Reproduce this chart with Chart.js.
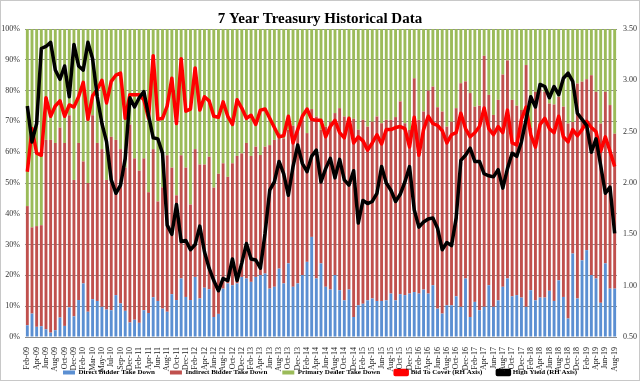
<!DOCTYPE html>
<html><head><meta charset="utf-8">
<script src="https://cdn.jsdelivr.net/npm/chart.js@4.4.1/dist/chart.umd.min.js"></script>
<style>
html,body{margin:0;padding:0;background:#fff;overflow:hidden;width:640px;height:381px;}
#wrap{position:relative;width:640px;height:386px;}
#frame{position:fixed;left:0;top:0;width:638px;height:379px;border:1px solid #c8c8c8;pointer-events:none;}
</style></head><body>
<div id="wrap"><canvas id="c" width="640" height="386"></canvas></div>
<div id="frame"></div>
<script>
const categories = [
'Feb-09','Mar-09','Apr-09','May-09','Jun-09','Jul-09','Aug-09','Sep-09','Oct-09','Nov-09','Dec-09','Jan-10',
'Feb-10','Feb-10','Mar-10','Apr-10','May-10','Jun-10','Jul-10','Aug-10','Sep-10','Oct-10','Dec-10','Jan-11',
'Feb-11','Mar-11','Apr-11','May-11','Jun-11','Jul-11','Aug-11','Sep-11','Oct-11','Nov-11','Dec-11','Jan-12',
'Feb-12','Mar-12','Apr-12','May-12','Jun-12','Jul-12','Aug-12','Sep-12','Oct-12','Nov-12','Dec-12','Jan-13',
'Feb-13','Mar-13','Apr-13','May-13','Jun-13','Jul-13','Aug-13','Sep-13','Oct-13','Nov-13','Dec-13','Jan-14',
'Feb-14','Mar-14','Apr-14','May-14','Jun-14','Jul-14','Aug-14','Sep-14','Oct-14','Nov-14','Dec-14','Jan-15',
'Feb-15','Mar-15','Apr-15','May-15','Jun-15','Jul-15','Aug-15','Sep-15','Oct-15','Nov-15','Dec-15','Jan-16',
'Feb-16','Mar-16','Apr-16','May-16','Jun-16','Jul-16','Aug-16','Sep-16','Oct-16','Nov-16','Dec-16','Jan-17',
'Feb-17','Mar-17','Apr-17','May-17','Jun-17','Jul-17','Aug-17','Sep-17','Oct-17','Nov-17','Dec-17','Jan-18',
'Feb-18','Mar-18','Apr-18','May-18','Jun-18','Jul-18','Aug-18','Sep-18','Oct-18','Nov-18','Dec-18','Jan-19',
'Feb-19','Mar-19','Apr-19','May-19','Jun-19','Jul-19','Aug-19'];

const directBidder = [
3.8,7.6,3.3,3.5,2.5,1.4,2.2,6.3,3.6,9.6,6.7,12.0,
17.4,8.2,12.3,11.7,9.8,8.9,8.7,13.6,10.9,8.5,4.7,5.6,
4.6,8.7,7.8,12.9,11.7,9.2,8.2,13.9,12.0,19.0,13.0,12.0,
19.5,12.5,16.0,15.5,6.5,7.5,15.7,17.4,16.8,17.4,19.5,19.0,
17.9,19.5,20.1,20.6,15.7,16.3,22.2,17.4,23.9,16.3,17.4,20.1,
24.4,32.5,19.0,23.9,16.3,15.4,20.1,15.2,11.9,15.4,6.5,10.3,
10.8,11.9,12.5,11.7,11.7,11.9,14.1,11.9,13.9,13.6,14.1,14.6,
14.1,15.4,14.1,16.8,9.2,7.6,10.3,10.3,13.2,9.8,19.0,6.5,
11.4,8.7,9.8,16.8,9.8,11.9,16.3,19.0,13.2,13.6,12.8,9.8,
15.2,11.9,12.8,12.8,15.0,11.7,18.4,13.0,6.0,27.1,12.5,24.9,
28.2,20.1,19.0,11.1,23.9,15.7,15.7];

const indirectBidder = [
38.7,28.0,32.7,32.8,61.5,62.6,60.8,61.7,59.4,62.4,44.3,51.0,
39.6,41.8,59.7,51.3,51.2,42.1,56.3,50.4,50.1,46.5,64.3,52.4,
49.4,49.3,39.2,48.1,32.3,39.4,50.8,41.1,34.0,40.0,42.0,31.0,
41.5,43.5,40.0,43.0,42.0,45.5,40.7,34.6,39.6,41.4,40.1,44.0,
40.9,42.3,39.0,41.2,46.6,47.7,44.0,47.1,43.4,52.3,49.9,50.4,
41.8,41.5,52.6,43.4,52.0,54.5,52.6,59.1,59.7,54.0,64.4,57.0,
59.7,56.4,57.4,59.9,57.7,58.6,56.4,59.5,62.6,55.8,53.1,69.4,
56.4,57.8,65.9,64.5,65.4,65.6,58.0,59.6,61.1,72.6,64.0,72.7,
63.4,66.4,81.5,61.8,62.3,65.1,68.9,70.8,63.8,61.5,60.9,78.5,
52.8,67.7,67.9,66.8,60.8,63.8,59.6,61.8,63.3,42.7,69.8,58.0,
55.5,64.9,60.6,58.2,55.7,59.6,50.3];

const primaryDealer = [
57.5,64.4,64.0,63.7,36.0,36.0,37.0,32.0,37.0,28.0,49.0,37.0,
43.0,50.0,28.0,37.0,39.0,49.0,35.0,36.0,39.0,45.0,31.0,42.0,
46.0,42.0,53.0,39.0,56.0,51.4,41.0,45.0,54.0,41.0,45.0,57.0,
39.0,44.0,44.0,41.5,51.5,47.0,43.6,48.0,43.6,41.2,40.4,37.0,
41.2,38.2,40.9,38.2,37.7,36.0,33.8,35.5,32.7,31.4,32.7,29.5,
33.8,26.0,28.4,32.7,31.7,30.1,27.3,25.7,28.4,30.6,29.1,32.7,
29.5,31.7,30.1,28.4,30.6,29.5,29.5,28.6,23.5,30.6,32.8,16.0,
29.5,26.8,20.0,18.7,25.4,26.8,31.7,30.1,25.7,17.6,17.0,20.8,
25.2,24.9,8.7,21.4,27.9,23.0,14.8,10.2,23.0,24.9,26.3,11.7,
32.0,20.4,19.3,20.4,24.2,24.5,22.0,25.2,30.7,30.2,17.7,17.1,
16.3,15.0,20.4,30.7,20.4,24.7,34.0];

const bidToCover = [
2.11,2.53,2.29,2.27,2.83,2.65,2.75,2.80,2.65,2.76,2.74,2.84,
2.98,2.62,2.85,2.91,3.00,2.78,2.99,3.05,3.07,2.63,2.86,2.86,
2.86,2.81,2.63,3.24,2.62,2.63,2.75,3.02,2.58,3.21,2.70,2.72,
3.12,2.71,2.84,2.80,2.65,2.64,2.79,2.65,2.57,2.81,2.73,2.63,
2.66,2.57,2.71,2.72,2.63,2.54,2.45,2.46,2.65,2.39,2.52,2.65,
2.72,2.62,2.61,2.61,2.45,2.55,2.61,2.49,2.44,2.63,2.39,2.45,
2.41,2.32,2.39,2.47,2.38,2.52,2.52,2.54,2.55,2.53,2.35,2.64,
2.27,2.52,2.65,2.58,2.56,2.51,2.39,2.47,2.49,2.68,2.53,2.45,
2.49,2.55,2.73,2.53,2.47,2.55,2.49,2.71,2.39,2.37,2.62,2.74,
2.47,2.35,2.57,2.63,2.53,2.49,2.65,2.45,2.40,2.52,2.46,2.52,
2.60,2.54,2.50,2.31,2.45,2.31,2.16];

const highYield = [
2.75,2.40,2.58,3.31,3.33,3.37,3.10,3.01,3.14,2.84,3.35,3.14,
3.10,3.37,3.21,2.84,2.58,2.40,2.03,1.90,1.98,2.24,2.83,2.74,
2.83,2.89,2.66,2.44,2.43,2.29,1.59,1.50,1.79,1.43,1.44,1.35,
1.40,1.58,1.33,1.17,1.05,0.95,1.07,1.05,1.26,1.05,1.22,1.41,
1.26,1.25,1.17,1.51,1.93,2.01,2.21,2.09,1.88,2.16,2.37,2.19,
2.11,2.26,2.32,2.01,2.14,2.24,2.05,2.23,2.03,1.98,2.12,1.61,
1.83,1.80,1.82,1.90,2.16,2.00,1.93,1.82,1.89,2.01,2.16,1.74,
1.57,1.62,1.65,1.66,1.56,1.35,1.42,1.39,1.66,2.22,2.27,2.34,
2.21,2.21,2.09,2.07,2.06,2.13,1.95,2.14,2.29,2.26,2.40,2.62,
2.84,2.74,2.96,2.94,2.83,2.94,2.86,3.02,3.07,2.99,2.68,2.62,
2.56,2.30,2.43,2.17,1.90,1.96,1.51];

const leftTickLabels = ['0%','10%','20%','30%','40%','50%','60%','70%','80%','90%','100%'];
const rightTickLabels = ['0.50','1.00','1.50','2.00','2.50','3.00','3.50'];

const SERIF = "'Liberation Serif','Times New Roman',serif";
const tickFont = {family: SERIF, size: 8};
const barCommon = {yAxisID: 'y', stack: 's', order: 3, barPercentage: 0.62, categoryPercentage: 1.0, borderWidth: 0};

new Chart(document.getElementById('c').getContext('2d'), {
  type: 'bar',
  data: {
    labels: categories,
    datasets: [
      Object.assign({label: 'Direct Bidder Take Down', data: directBidder, backgroundColor: '#5B8FD2'}, barCommon),
      Object.assign({label: 'Indirect Bidder Take Down', data: indirectBidder, backgroundColor: '#C0504D'}, barCommon),
      Object.assign({label: 'Primary Dealer Take Down', data: primaryDealer, backgroundColor: '#9BBB59'}, barCommon),
      {type: 'line', label: 'Bid To Cover (RH Axis)', data: bidToCover, borderColor: '#FF0000', backgroundColor: '#FF0000',
       borderWidth: 3.5, pointRadius: 0, tension: 0, yAxisID: 'y1', order: 1, borderJoinStyle: 'round'},
      {type: 'line', label: 'High Yield (RH Axis)', data: highYield, borderColor: '#000000', backgroundColor: '#000000',
       borderWidth: 3.5, pointRadius: 0, tension: 0, yAxisID: 'y1', order: 0, borderJoinStyle: 'round'}
    ]
  },
  options: {
    responsive: false, animation: false, devicePixelRatio: 1,
    layout: {padding: 0},
    plugins: {
      title: {display: true, text: '7 Year Treasury Historical Data', color: '#000',
        font: {family: SERIF, size: 15, weight: 'bold'}, padding: {top: 10, bottom: 1}},
      legend: {position: 'bottom',
        labels: {font: {family: SERIF, size: 7, weight: 'bold'}, color: '#000', boxWidth: 12, boxHeight: 4, padding: 15,
          sort: (a, b) => a.datasetIndex - b.datasetIndex}},
      tooltip: {enabled: false}
    },
    scales: {
      x: {stacked: true, offset: true,
        grid: {display: false}, border: {display: false},
        ticks: {autoSkip: false, maxRotation: 90, minRotation: 90, font: tickFont, color: '#222', padding: 2,
          callback: (v, i) => (i % 2 === 0 ? categories[i] : '')},
        afterFit: (s) => { s.height = 386 - s.chart.legend.height - 337; s._computeLabelArea = () => undefined; }
      },
      y: {stacked: true, position: 'left', min: 0, max: 100,
        grid: {color: '#8f8f8f', lineWidth: 1, drawTicks: false}, border: {display: false},
        ticks: {stepSize: 10, font: tickFont, color: '#333', padding: 5,
          callback: (v) => leftTickLabels[Math.round(v / 10)]},
        afterFit: (s) => { s.width = 25; }
      },
      y1: {position: 'right', min: 0.5, max: 3.5,
        grid: {display: false, drawTicks: false}, border: {display: false},
        ticks: {stepSize: 0.5, font: tickFont, color: '#333', padding: 6,
          callback: (v) => rightTickLabels[Math.round((v - 0.5) / 0.5)]},
        afterFit: (s) => { s.width = 23; }
      }
    }
  }
});
</script>
</body></html>
